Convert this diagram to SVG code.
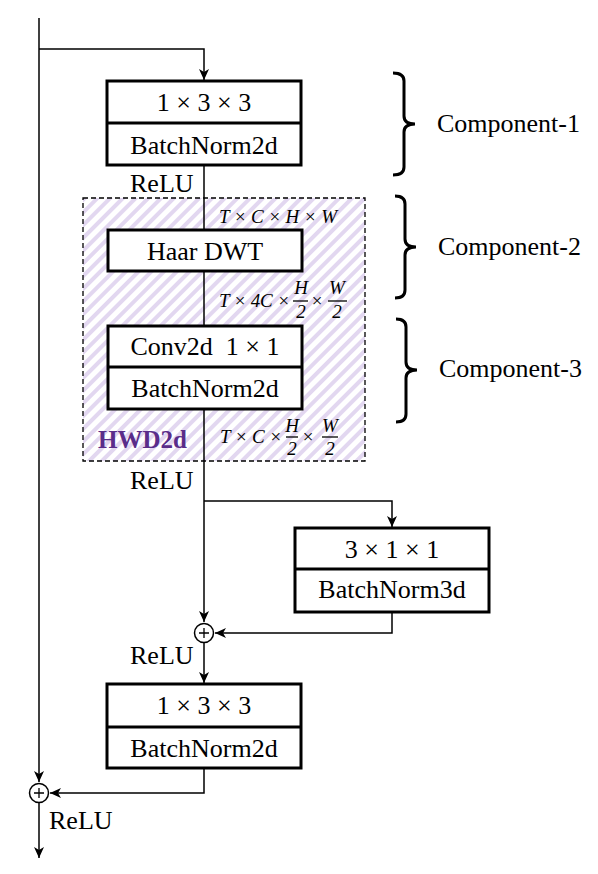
<svg xmlns="http://www.w3.org/2000/svg" width="598" height="874" viewBox="0 0 598 874" font-family="Liberation Serif, serif">
<style>
.box{fill:#fff;stroke:#000;stroke-width:3}
.div{stroke:#000;stroke-width:3}
.t{font-size:26px;fill:#000}
.c{text-anchor:middle}
.m{font-style:italic;font-size:19px;fill:#000}
.fb{stroke:#000;stroke-width:1.3}
.ln{fill:none;stroke:#000;stroke-width:1.5}
.br{fill:none;stroke:#000;stroke-width:3}
</style>
<defs>
<marker id="ah" markerWidth="12" markerHeight="10" refX="11" refY="5" orient="auto" markerUnits="userSpaceOnUse">
<path d="M0,0 L11,5 L0,10 L3,5 Z" fill="#000"/>
</marker>
<pattern id="hatch" width="9" height="9" patternUnits="userSpaceOnUse" patternTransform="rotate(45)">
<rect width="9" height="9" fill="#fff"/>
<rect width="4" height="9" fill="#e2d7f0"/>
</pattern>
</defs>
<rect width="598" height="874" fill="#fff"/>

<g id="hwd2d">
<rect x="83" y="198" width="282" height="263" fill="url(#hatch)" stroke="#000" stroke-width="1.3" stroke-dasharray="5,3"/>
<text x="98" y="448" font-family="Liberation Serif, serif" font-size="25" font-weight="bold" fill="#5a2d8a">HWD2d</text>
</g>

<g id="connectors">
<path class="ln" d="M39,18 V782" marker-end="url(#ah)"/>
<path class="ln" d="M39,49 H204 V80" marker-end="url(#ah)"/>
<path class="ln" d="M204,165 V326"/>
<path class="ln" d="M204,409 V622" marker-end="url(#ah)"/>
<path class="ln" d="M204,501 H392 V527" marker-end="url(#ah)"/>
<path class="ln" d="M392,612 V633 H215" marker-end="url(#ah)"/>
<path class="ln" d="M204,643 V683" marker-end="url(#ah)"/>
<path class="ln" d="M204,768 V793 H50" marker-end="url(#ah)"/>
<path class="ln" d="M39,803 V858" marker-end="url(#ah)"/>
</g>

<g id="box1">
<rect class="box" x="107" y="81" width="194" height="84"/>
<line class="div" x1="107" y1="123" x2="301" y2="123"/>
<text class="t c" x="204" y="111">1 × 3 × 3</text>
<text class="t c" x="204" y="154">BatchNorm2d</text>
</g>
<text class="t" x="130" y="192">ReLU</text>

<g id="haar">
<rect class="box" x="108" y="230" width="194" height="41"/>
<text class="t c" x="205" y="260">Haar DWT</text>
</g>

<g id="conv">
<rect class="box" x="108" y="326" width="194" height="83"/>
<line class="div" x1="108" y1="367" x2="302" y2="367"/>
<text class="t c" x="205" y="355" xml:space="preserve">Conv2d  1 × 1</text>
<text class="t c" x="205" y="397">BatchNorm2d</text>
</g>

<g id="dims">
<text class="m" x="219" y="223" textLength="118" lengthAdjust="spacing">T × C × H × W</text>
<text class="m" x="219" y="307" textLength="71" lengthAdjust="spacing">T × 4C ×</text>
<text class="m c" x="301" y="294">H</text>
<line class="fb" x1="293" y1="301" x2="308" y2="301"/>
<text class="m c" x="301" y="318">2</text>
<text class="m c" x="317" y="307">×</text>
<text class="m c" x="337" y="294">W</text>
<line class="fb" x1="328" y1="301" x2="347" y2="301"/>
<text class="m c" x="337" y="318">2</text>

<text class="m" x="220" y="443" textLength="62" lengthAdjust="spacing">T × C ×</text>
<text class="m c" x="292" y="432">H</text>
<line class="fb" x1="286" y1="437" x2="298" y2="437"/>
<text class="m c" x="292" y="455">2</text>
<text class="m c" x="308" y="443">×</text>
<text class="m c" x="330" y="432">W</text>
<line class="fb" x1="322" y1="437" x2="338" y2="437"/>
<text class="m c" x="330" y="455">2</text>
</g>

<text class="t" x="130" y="489">ReLU</text>

<g id="box3d">
<rect class="box" x="295" y="528" width="194" height="84"/>
<line class="div" x1="295" y1="569" x2="489" y2="569"/>
<text class="t c" x="392" y="558">3 × 1 × 1</text>
<text class="t c" x="392" y="598">BatchNorm3d</text>
</g>

<g id="add1">
<circle cx="204" cy="633" r="9.5" fill="#fff" stroke="#000" stroke-width="1.5"/>
<path d="M199,633 H209 M204,628 V638" stroke="#000" stroke-width="1.3"/>
</g>
<text class="t" x="130" y="664">ReLU</text>

<g id="box4">
<rect class="box" x="107" y="684" width="194" height="84"/>
<line class="div" x1="107" y1="727" x2="301" y2="727"/>
<text class="t c" x="204" y="714">1 × 3 × 3</text>
<text class="t c" x="204" y="757">BatchNorm2d</text>
</g>

<g id="add2">
<circle cx="39" cy="793" r="9.5" fill="#fff" stroke="#000" stroke-width="1.5"/>
<path d="M34,793 H44 M39,788 V798" stroke="#000" stroke-width="1.3"/>
</g>
<text class="t" x="49" y="829">ReLU</text>

<g id="component1">
<path class="br" d="M393,73 Q404,73 404,81 V116 Q404,124 415,124 Q404,124 404,132 V167 Q404,175 393,175"/>
<text class="t" x="437" y="132">Component-1</text>
</g>
<g id="component2">
<path class="br" d="M395,196 Q405,196 405,204 V239 Q405,247 416,247 Q405,247 405,255 V290 Q405,298 395,298"/>
<text class="t" x="438" y="255">Component-2</text>
</g>
<g id="component3">
<path class="br" d="M396,319 Q406,319 406,327 V362 Q406,370 417,370 Q406,370 406,378 V414 Q406,422 396,422"/>
<text class="t" x="439" y="377">Component-3</text>
</g>
</svg>
